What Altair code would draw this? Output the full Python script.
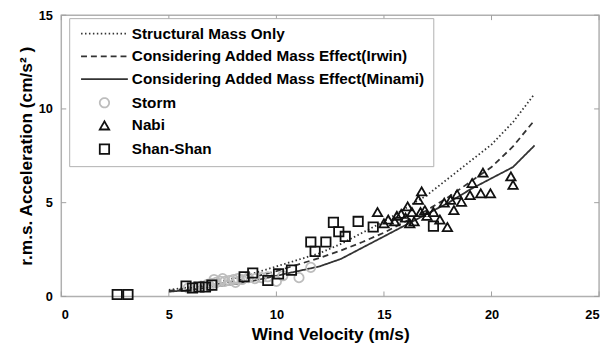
import altair as alt
import pandas as pd

# ---- data ----
series_names = ["Structural Mass Only",
                "Considering Added Mass Effect(Irwin)",
                "Considering Added Mass Effect(Minami)",
                "Storm", "Nabi", "Shan-Shan"]

v_curve = [5, 6, 7, 8, 9, 10, 11, 12, 13, 14, 15, 16, 17, 18, 19, 20, 21, 22]
a_struct = [0.35, 0.5, 0.7, 0.95, 1.25, 1.6, 1.95, 2.3, 2.8, 3.4, 4.0, 4.7, 5.4, 6.3, 7.2, 8.1, 9.3, 10.8]
a_irwin = [0.3, 0.45, 0.6, 0.8, 1.05, 1.35, 1.7, 2.05, 2.45, 2.9, 3.4, 4.0, 4.6, 5.3, 6.1, 6.9, 8.0, 9.4]
a_minami = [0.25, 0.35, 0.5, 0.65, 0.85, 1.1, 1.35, 1.6, 2.0, 2.6, 3.2, 3.8, 4.4, 5.0, 5.7, 6.3, 6.9, 8.05]

storm_v = [5.9, 6.2, 6.5, 6.8, 6.9, 7.0, 7.1, 7.2, 7.4, 7.5, 7.6, 7.8, 8.0, 8.1, 8.2, 8.4, 8.7, 9.0, 9.3, 9.6, 10.0, 10.3, 11.05, 11.6]
storm_a = [0.45, 0.5, 0.55, 0.65, 0.55, 0.7, 0.9, 0.75, 0.8, 0.95, 0.8, 0.85, 0.9, 0.75, 0.95, 0.9, 1.0, 0.95, 1.0, 1.05, 0.8, 1.1, 1.0, 1.55]

shan_v = [2.6, 3.1, 5.8, 6.1, 6.4, 6.7, 7.0, 8.5, 8.9, 9.6, 10.1, 10.7, 11.6, 11.8, 12.3, 12.65, 12.9, 13.2, 13.8, 14.5, 17.3]
shan_a = [0.1, 0.1, 0.55, 0.45, 0.5, 0.5, 0.6, 1.05, 1.25, 0.85, 1.2, 1.4, 2.9, 2.4, 2.9, 3.95, 3.45, 3.2, 4.0, 3.7, 3.75]

nabi_v = [14.7, 15.0, 15.2, 15.5, 15.6, 15.8, 16.0, 16.1, 16.2, 16.3, 16.4, 16.6, 16.75, 16.7, 16.9, 17.0, 17.3, 17.6,
          17.95, 17.8, 18.1, 18.25, 18.4, 18.6, 19.0, 19.1, 19.5, 19.6, 19.95, 20.9, 21.0]
nabi_a = [4.5, 3.9, 4.1, 4.0, 4.3, 4.4, 4.2, 4.8, 3.9, 4.5, 4.0, 5.15, 5.6, 4.5, 4.6, 4.3, 4.5, 4.1,
          3.7, 5.0, 5.15, 4.6, 5.45, 5.05, 5.4, 6.05, 5.5, 6.6, 5.5, 6.4, 5.95]

x_ticks = [0, 5, 10, 15, 20, 25]
y_ticks = [0, 5, 10, 15]

# ---- tables ----
lines_df = pd.concat([
    pd.DataFrame({"v": v_curve, "a": a_struct, "series": series_names[0]}),
    pd.DataFrame({"v": v_curve, "a": a_irwin, "series": series_names[1]}),
    pd.DataFrame({"v": v_curve, "a": a_minami, "series": series_names[2]}),
])
points_df = pd.concat([
    pd.DataFrame({"v": storm_v, "a": storm_a, "series": series_names[3]}),
    pd.DataFrame({"v": nabi_v, "a": nabi_a, "series": series_names[4]}),
    pd.DataFrame({"v": shan_v, "a": shan_a, "series": series_names[5]}),
])
xt_df = pd.DataFrame({"t": x_ticks})
yt_df = pd.DataFrame({"t": y_ticks})

W, H = 545, 285
FONT = "Liberation Sans"
line_path = "M-5,0H5"

legend = alt.Legend(title=None, orient="none", legendX=8, legendY=3,
                    padding=8, symbolOffset=20, labelOffset=20,
                    rowPadding=6, symbolSize=90, symbolStrokeWidth=1.8,
                    symbolFillColor="transparent",
                    labelFont=FONT, labelFontSize=15.5, labelFontWeight="bold",
                    labelColor="black", labelLimit=400,
                    strokeColor="#b0b0b0", fillColor="white")

color_enc = alt.Color("series:N", legend=legend,
                      scale=alt.Scale(domain=series_names,
                                      range=["#333333", "#333333", "#333333", "#bdbdbd", "#111111", "#111111"]))
dash_enc = alt.StrokeDash("series:N", legend=legend,
                          scale=alt.Scale(domain=series_names,
                                          range=[[1.5, 2.5], [6, 4], [1, 0], [1, 0], [1, 0], [1, 0]]))
shape_enc = alt.Shape("series:N", legend=legend,
                      scale=alt.Scale(domain=series_names,
                                      range=[line_path, line_path, line_path, "circle", "triangle-up", "square"]))
size_enc = alt.Size("series:N", legend=None,
                    scale=alt.Scale(domain=series_names, range=[90, 90, 90, 70, 135, 140]))

x_enc = alt.X("v:Q", scale=alt.Scale(domain=[0, 25], nice=False),
              axis=alt.Axis(values=x_ticks, title="Wind Velocity (m/s)", grid=False, domain=False, ticks=False,
                            labelFont=FONT, labelFontSize=13, labelFontWeight="bold", labelColor="black",
                            labelPadding=12, titleFont=FONT, titleFontSize=17.5, titleFontWeight="bold",
                            titleColor="black", titlePadding=5))
y_enc = alt.Y("a:Q", scale=alt.Scale(domain=[0, 15], nice=False),
              axis=alt.Axis(values=y_ticks, title="r.m.s. Acceleration (cm/s² )", grid=False, domain=False,
                            ticks=False, labelFont=FONT, labelFontSize=13, labelFontWeight="bold",
                            labelColor="black", labelPadding=9, titleFont=FONT, titleFontSize=17.5,
                            titleFontWeight="bold", titleColor="black", titlePadding=3))

lines = alt.Chart(lines_df).mark_line(strokeWidth=1.8).encode(
    x=x_enc, y=y_enc, color=color_enc, strokeDash=dash_enc, detail="series:N")

points = alt.Chart(points_df).mark_point(filled=False, strokeWidth=1.8, opacity=1).encode(
    x="v:Q", y="a:Q", color=color_enc, shape=shape_enc, size=size_enc)

tick_color = "#a0a0a0"
xt_bottom = alt.Chart(xt_df).mark_rule(color=tick_color, strokeWidth=1).encode(
    x="t:Q", y=alt.value(H), y2=alt.value(H - 5))
xt_top = alt.Chart(xt_df).mark_rule(color=tick_color, strokeWidth=1).encode(
    x="t:Q", y=alt.value(0), y2=alt.value(5))
yt_left = alt.Chart(yt_df).mark_rule(color=tick_color, strokeWidth=1).encode(
    y="t:Q", x=alt.value(0), x2=alt.value(5))
yt_right = alt.Chart(yt_df).mark_rule(color=tick_color, strokeWidth=1).encode(
    y="t:Q", x=alt.value(W), x2=alt.value(W - 5))

chart = alt.layer(xt_bottom, xt_top, yt_left, yt_right, lines, points).properties(
    width=W, height=H,
    autosize=alt.AutoSizeParams(type="none"),
    padding={"left": 54, "top": 5, "right": 6, "bottom": 50},
    background="white",
).configure_view(stroke="#b0b0b0", strokeWidth=1.5)

chart.save("out.html", embed_options={"renderer": "svg", "actions": False})
